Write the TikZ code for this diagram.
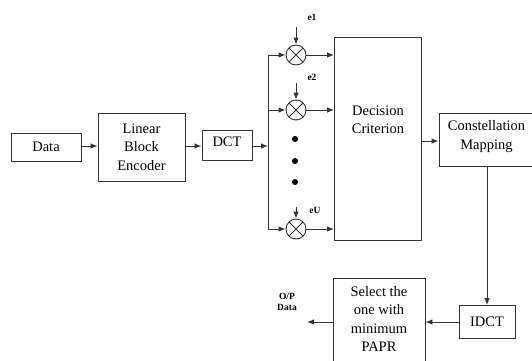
\documentclass[tikz,border=0pt]{standalone}
\usepackage{fontspec}
\setmainfont{Liberation Serif}
\usetikzlibrary{arrows.meta}

\begin{document}
\begin{tikzpicture}[x=1pt, y=-1pt,
  blk/.style={draw=black!80, line width=.9pt, align=center, inner sep=0pt,
    font=\fontsize{14.5}{18.5}\selectfont},
  arr/.style={draw=black!80, line width=.9pt, -{Latex[length=7pt,width=5.5pt]}},
  mult/.style={draw=black!80, line width=.9pt, circle, minimum size=20pt, inner sep=0pt,
    path picture={\draw[black!80, line width=.8pt]
      (path picture bounding box.north west) -- (path picture bounding box.south east)
      (path picture bounding box.north east) -- (path picture bounding box.south west);}},
  lab/.style={font=\fontsize{9.5}{11}\selectfont\bfseries, align=center}]
\useasboundingbox (0,0) rectangle (532,360);
% left chain
\node[blk, minimum width=70pt, minimum height=28pt] (data) at (46,147) {Data};
\node[blk, minimum width=87pt, minimum height=68pt] (lbe) at (141.5,147) {Linear\\Block\\Encoder};
\node[blk, minimum width=50pt, minimum height=30pt] (dct) at (227,145) {};
\node[blk, draw=none] (dcttxt) at (227,142) {DCT};
\coordinate (bus) at (268,146);
\coordinate (bus1) at (268,55);
\coordinate (busU) at (268,229);
\draw[arr] (data.east |- bus) -- (lbe.west |- bus);
\draw[arr] (lbe.east |- bus) -- (dct.west |- bus);
\draw[arr] (dct.east |- bus) -- (bus);
\draw[draw=black!80, line width=.9pt] (bus1) -- (busU);
% multipliers
\node[mult] (m1) at (296,55) {};
\node[mult] (m2) at (296,110) {};
\node[mult] (mU) at (296,229) {};
\foreach \y in {139,161,182} \fill (295,\y) circle (3pt);
\node[lab] (e1) at (312,17) {e1};
\node[lab] (e2) at (312,77) {e2};
\node[lab] (eU) at (315,210) {eU};
\coordinate (e1in) at (296,27);
\coordinate (e2in) at (296,83);
\coordinate (eUin) at (296,207);
\draw[arr] (e1in) -- (m1);
\draw[arr] (e2in) -- (m2);
\draw[arr] (eUin) -- (mU);
\draw[arr] (bus1) -- (m1);
\draw[arr] (m2 -| bus1) -- (m2);
\draw[arr] (busU) -- (mU);
% decision
\node[blk, minimum width=87pt, minimum height=203pt] (dec) at (378,138.5) {};
\node[blk, draw=none] (dectxt) at (378,120) {Decision\\Criterion};
\draw[arr] (m1) -- (m1 -| dec.west);
\draw[arr] (m2) -- (m2 -| dec.west);
\draw[arr] (mU) -- (mU -| dec.west);
% right side
\node[blk, minimum width=95pt, minimum height=53pt] (map) at (486.5,139.5) {};
\node[blk, draw=none] (maptxt) at (486.5,136.5) {Constellation\\Mapping};
\coordinate (mapin) at (439,141);
\draw[arr] (dec.east |- mapin) -- (map.west |- mapin);
\node[blk, minimum width=56pt, minimum height=33pt] (idct) at (487,322) {IDCT};
\draw[arr] (map.south -| idct) -- (idct);
\node[blk, minimum width=92pt, minimum height=84pt] (sel) at (379,320) {};
\node[blk, draw=none] (seltxt) at (379,319) {Select the\\one with\\minimum\\PAPR};
\draw[arr] (idct.west) -- (sel.east |- idct);
\coordinate (out) at (307,322);
\draw[arr] (sel.west |- out) -- (out);
\node[lab] (op) at (287,302) {O/P\\Data};
\end{tikzpicture}
\end{document}
